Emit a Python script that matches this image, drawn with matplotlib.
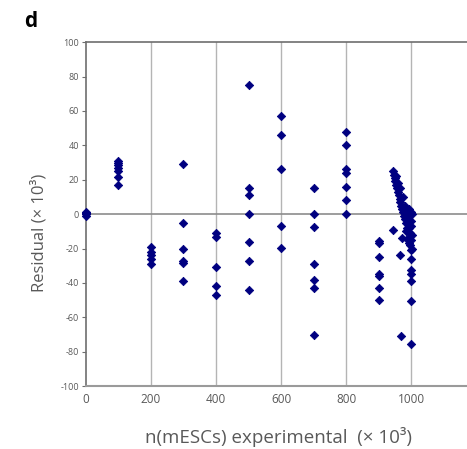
import matplotlib.pyplot as plt

plt.rcParams['font.family'] = ['Open Sans', 'DejaVu Sans']
plt.rcParams['axes.unicode_minus'] = False

# residuals (x10^3) grouped by experimental cell number (x10^3)
x_0 = [0, 0, 0, 0]
y_0 = [1, 0, -1, 0.5]
x_100 = [100] * 7
y_100 = [31, 30, 28.5, 27, 25, 21.5, 17]
x_200 = [200] * 5
y_200 = [-19, -22, -24, -26, -29]
x_300 = [300] * 6
y_300 = [29, -5, -20, -27, -28.5, -39]
x_400 = [400] * 5
y_400 = [-11, -13, -30.5, -42, -47]
x_500 = [500] * 7
y_500 = [75, 15.5, 11, 0, -16, -27, -44]
x_600 = [600] * 5
y_600 = [57, 46, 26, -7, -19.5]
x_700 = [700] * 7
y_700 = [15, 0, -7.5, -29, -38, -43, -70]
x_800 = [800] * 7
y_800 = [48, 40, 26, 24, 16, 8, 0]
x_900 = [900] * 7
y_900 = [-15.5, -17, -25, -34.5, -36, -43, -50]
x_1000 = [945, 948, 950, 952, 955, 957, 960, 962, 965, 967, 970, 972, 975, 978,
          980, 983, 985, 988, 990, 993, 995, 998, 1000, 1000, 998, 1000, 995,
          1000, 990, 1000, 945, 972, 966, 1000, 1000, 1000, 1000, 1000, 970, 1000,
          985, 990, 992, 1003, 1003, 1003, 980, 975, 965, 955, 960, 995, 988]
y_1000 = [25, 23, 21, 19, 17, 15, 13, 11, 9, 7, 5, 3, 1, -1, -3, -5, 2, -2, 0,
          3, -8, -11, -4, -15, -18, -21, -13, 1, -6, -7, -9, -14, -24, -32.5,
          -34.5, -39, -50.5, -75.5, -71, -26,
          -10, -15, -5, -12, 0, -20, 5, 10, 15, 22, 18, -17, -8]

xs = [x_0, x_100, x_200, x_300, x_400, x_500, x_600, x_700, x_800, x_900, x_1000]
ys = [y_0, y_100, y_200, y_300, y_400, y_500, y_600, y_700, y_800, y_900, y_1000]

gray = '#595959'

fig = plt.figure(figsize=(4.67, 4.49), dpi=100)
ax = fig.add_axes([0.184, 0.140, 0.816, 0.766])

for xv in [200, 400, 600, 800, 1000]:
    ax.axvline(xv, color='#b4b4b4', lw=1.0, zorder=0)
ax.axhline(0, color='#8c8c8c', lw=1.2, zorder=1)

for x, y in zip(xs, ys):
    ax.scatter(x, y, marker='D', s=18, color='#000080', edgecolors='#000080',
               linewidths=0.6, zorder=3, clip_on=False)

ax.set_xlim(0, 1172)
ax.set_ylim(-100, 100)
ax.set_xticks([0, 200, 400, 600, 800, 1000])
ax.set_yticks(range(-100, 101, 20))

for side in ['left', 'top']:
    ax.spines[side].set_color('#6e6e6e')
    ax.spines[side].set_linewidth(1.2)
ax.spines['bottom'].set_color('#9a9a9a')
ax.spines['bottom'].set_linewidth(1.5)
ax.spines['right'].set_visible(False)

ax.tick_params(axis='y', length=3, width=0.8, color='#6e6e6e', labelsize=6.5,
               labelcolor=gray, pad=2)
ax.tick_params(axis='x', length=0, labelsize=8.5, labelcolor=gray, pad=5)

fig.text(0.084, 0.482, 'Residual (× 10³)', fontsize=12, color=gray,
         rotation=90, ha='center', va='center')
fig.text(0.596, 0.027, 'n(mESCs) experimental  (× 10³)', fontsize=13.5,
         color=gray, ha='center', va='center')
fig.text(0.052, 0.94, 'd', fontsize=15, fontweight='bold', color='black')

fig.savefig('out.png', dpi=100)
